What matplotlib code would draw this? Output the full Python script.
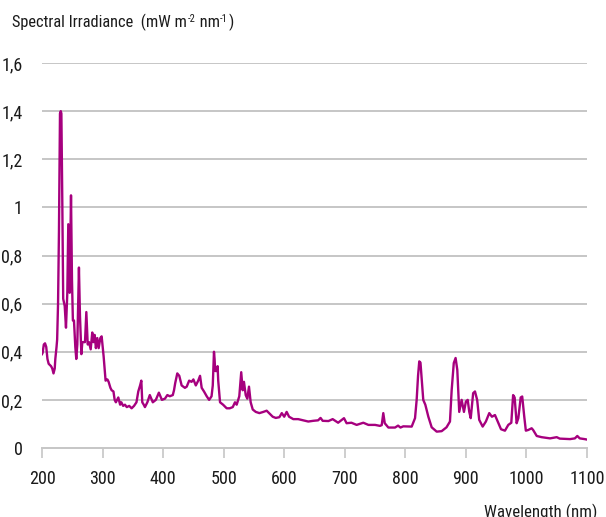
import matplotlib
matplotlib.use("Agg")
import os
import matplotlib.pyplot as plt
from matplotlib import font_manager
from matplotlib.font_manager import FontProperties

# Spectral irradiance of the lamp, wavelength in nm and irradiance in mW m-2 nm-1
wavelength = [
    200, 201, 203, 205, 207, 209, 211, 213, 215, 217, 219, 221, 222, 224, 225,
    226.5, 228, 229.7, 231, 232, 233.5, 235, 237.5, 239.6, 241.8, 243.4, 245.7,
    247.9, 249.5, 251, 252.8, 255, 256.6, 258.3, 260, 261, 262.7, 265, 266.6,
    269.4, 271, 273.2, 275.5, 277.6, 280.4, 283, 285, 287, 289, 291.3, 293.6,
    296.3, 298.5, 301.8, 303.5, 305, 308, 310, 313, 315, 318, 320, 322, 324,
    326, 329, 331, 334, 337, 340, 344, 348, 352, 356, 359, 362, 364, 365.6,
    368, 370, 374, 378, 383, 388, 393, 398, 403, 407, 411, 416, 418, 420,
    423.4, 426.7, 430.6, 436, 439, 443, 447, 450, 454, 458, 461, 463.7, 467.5,
    472, 476, 480, 482, 484, 485, 486, 488.4, 490, 491, 494, 499, 505, 510,
    515, 518.7, 521.5, 525.8, 529, 531.4, 533.5, 536.4, 539, 541.8, 544.6,
    548, 553, 559, 565.5, 571, 575, 581, 586, 592, 596, 600, 604, 608, 615,
    623, 631.5, 639.7, 648, 656, 660, 663.5, 673, 680, 683, 689, 698.7, 703,
    711, 719.6, 730.6, 739, 750, 758, 761, 763.6, 766, 772, 783, 788, 792,
    796.6, 810.5, 816, 818.7, 821, 823, 825, 827.5, 829.6, 833, 838, 843.5,
    851.8, 860, 868, 873.7, 876.5, 880, 883, 885.8, 889, 893, 896.8, 900, 903,
    905.6, 908, 912, 915, 918.6, 922, 927.7, 933, 938.6, 943, 948, 952.5, 958,
    964.5, 970, 975, 978, 980.5, 983.8, 986.6, 990.5, 993, 996.4, 999, 1003,
    1008.6, 1011, 1017, 1025, 1039, 1050, 1055, 1072, 1080, 1084, 1088, 1096,
    1100,
]
irradiance = [
    0.39, 0.395, 0.43, 0.435, 0.42, 0.37, 0.35, 0.345, 0.34, 0.33, 0.31, 0.33,
    0.37, 0.42, 0.45, 0.6, 0.9, 1.39, 1.40, 1.39, 1.03, 0.62, 0.59, 0.50, 0.645,
    0.93, 0.645, 1.05, 0.70, 0.53, 0.53, 0.42, 0.37, 0.43, 0.62, 0.75, 0.55,
    0.39, 0.44, 0.44, 0.44, 0.565, 0.43, 0.44, 0.41, 0.48, 0.44, 0.47, 0.415,
    0.457, 0.415, 0.457, 0.464, 0.38, 0.325, 0.28, 0.285, 0.275, 0.25, 0.24,
    0.235, 0.2, 0.19, 0.2, 0.21, 0.18, 0.19, 0.175, 0.18, 0.17, 0.175, 0.165,
    0.175, 0.19, 0.235, 0.26, 0.28, 0.19, 0.18, 0.17, 0.19, 0.22, 0.19, 0.20,
    0.23, 0.20, 0.205, 0.22, 0.215, 0.22, 0.24, 0.27, 0.31, 0.30, 0.26, 0.25,
    0.255, 0.28, 0.275, 0.285, 0.26, 0.28, 0.30, 0.25, 0.235, 0.215, 0.20,
    0.215, 0.26, 0.40, 0.37, 0.32, 0.32, 0.34, 0.28, 0.19, 0.18, 0.165, 0.165,
    0.17, 0.19, 0.18, 0.215, 0.315, 0.24, 0.275, 0.22, 0.205, 0.255, 0.19,
    0.16, 0.15, 0.145, 0.15, 0.155, 0.145, 0.13, 0.125, 0.128, 0.145, 0.13,
    0.15, 0.13, 0.12, 0.12, 0.115, 0.11, 0.113, 0.115, 0.125, 0.113, 0.112,
    0.12, 0.115, 0.105, 0.124, 0.103, 0.105, 0.096, 0.105, 0.096, 0.096,
    0.092, 0.095, 0.145, 0.103, 0.085, 0.085, 0.093, 0.085, 0.09, 0.089,
    0.124, 0.2, 0.3, 0.36, 0.355, 0.27, 0.20, 0.18, 0.13, 0.086, 0.068, 0.07,
    0.086, 0.11, 0.24, 0.353, 0.374, 0.325, 0.15, 0.20, 0.15, 0.193, 0.20,
    0.15, 0.124, 0.228, 0.235, 0.20, 0.117, 0.089, 0.11, 0.145, 0.13, 0.137,
    0.11, 0.078, 0.072, 0.096, 0.105, 0.22, 0.21, 0.103, 0.124, 0.21, 0.214,
    0.13, 0.072, 0.075, 0.082, 0.075, 0.05, 0.045, 0.04, 0.045, 0.039, 0.037,
    0.04, 0.05, 0.04, 0.037, 0.035,
]

x_ticks = [200, 300, 400, 500, 600, 700, 800, 900, 1000, 1100]
y_ticks = [0, 0.2, 0.4, 0.6, 0.8, 1.0, 1.2, 1.4, 1.6]
y_tick_labels = ["0", "0,2", "0,4", "0,6", "0,8", "1", "1,2", "1,4", "1,6"]


def pick_narrow_font():
    """Return a path to a regular condensed/narrow sans font, if one exists."""
    files = font_manager.findSystemFonts() + [f.fname for f in font_manager.fontManager.ttflist]
    prefs = ["robotocondensed-regular", "liberationsansnarrow-regular",
             "dejavusanscondensed.", "opensans_condensed-regular",
             "opensanscondensed-regular", "notosans-condensed.",
             "notosanscondensed-regular", "notosans_condensed-regular",
             "opensans-condensedregular", "opensans_condensed"]
    low = {os.path.basename(p).lower().replace(" ", ""): p for p in files}
    for key in prefs:
        for name, path in low.items():
            if name.startswith(key):
                return path
    for name, path in low.items():
        if ("condensed" in name or "narrow" in name) and not any(
                s in name for s in ("bold", "italic", "oblique", "light", "thin",
                                    "medium", "black", "semi", "extra")):
            return path
    return None


narrow_path = pick_narrow_font()


def fprop(size):
    if narrow_path:
        return FontProperties(fname=narrow_path, size=size)
    return FontProperties(family="DejaVu Sans", stretch="condensed", size=size)


line_color = "#A6007E"
grid_color = "#C6C6C6"
text_color = "#1a1a1a"

fig = plt.figure(figsize=(6.06, 5.17), dpi=100)
ax = fig.add_axes([42 / 606, 69 / 517, 545 / 606, 385 / 517])

for v in y_ticks[1:]:
    ax.axhline(v, color=grid_color, lw=1.4, zorder=1)

ax.plot(wavelength, irradiance, color=line_color, lw=1.7, zorder=3,
        solid_joinstyle="round")

ax.set_xlim(200, 1100)
ax.set_ylim(0, 1.6)
ax.set_xticks(x_ticks)
ax.set_xticklabels([str(t) for t in x_ticks])
ax.set_yticks(y_ticks)
ax.set_yticklabels(y_tick_labels)

for side in ("top", "right", "left"):
    ax.spines[side].set_visible(False)
ax.spines["bottom"].set_color(grid_color)
ax.spines["bottom"].set_linewidth(1.4)
ax.tick_params(axis="x", direction="out", length=7, width=1.2, color=grid_color,
               pad=9, labelcolor=text_color)
ax.tick_params(axis="y", length=0, pad=14, labelcolor=text_color)
for lbl in ax.get_xticklabels() + ax.get_yticklabels():
    lbl.set_fontproperties(fprop(13))

# Axis title with raised exponents, assembled piece by piece
renderer = fig.canvas.get_renderer()
pieces = [("Spectral Irradiance  (mW m", 11.8, 0), ("-2", 7.5, 5),
          (" nm", 11.8, 0), ("-1", 7.5, 5), (")", 11.8, 0)]
x_px = 12.0
base_px = 27.0
for txt, size, rise in pieces:
    t = fig.text(x_px / 606, 1 - (base_px - rise) / 517, txt,
                 fontproperties=fprop(size), color=text_color,
                 ha="left", va="baseline")
    bb = t.get_window_extent(renderer=renderer)
    x_px += bb.width + 0.5

fig.text(597 / 606, 1 - 517 / 517, "Wavelength (nm)", fontproperties=fprop(12.2),
         color=text_color, ha="right", va="baseline")

fig.savefig("out.png", dpi=100)
